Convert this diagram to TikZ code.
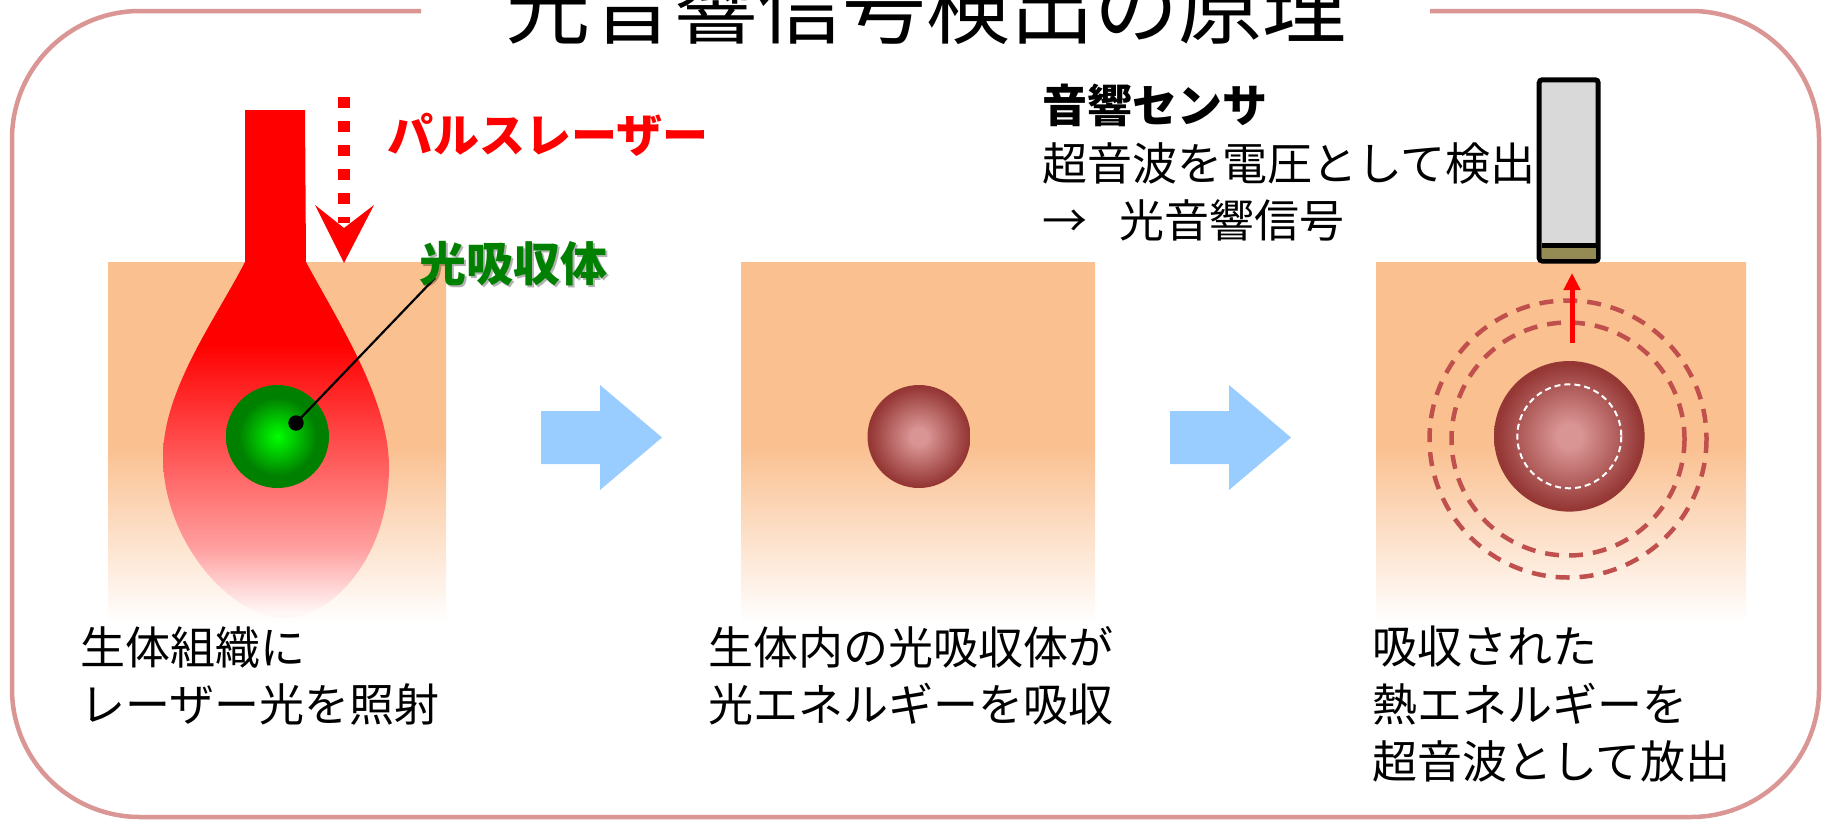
\documentclass[tikz,border=0pt]{standalone}
\usepackage{fontspec}
\setmainfont{Noto Sans CJK JP}
\usetikzlibrary{arrows.meta}

\definecolor{skin}{HTML}{FAC090}
\definecolor{framepink}{HTML}{D99694}
\definecolor{arrowblue}{HTML}{99CCFF}
\definecolor{wavered}{HTML}{C0504D}
\definecolor{labelgreen}{HTML}{008000}
\definecolor{ballgreen}{HTML}{00FF00}
\definecolor{balldark}{HTML}{008000}
\definecolor{heatpink}{HTML}{D99594}
\definecolor{heatbrown}{HTML}{953735}
\definecolor{sensorgray}{HTML}{D9D9D9}
\definecolor{sensorolive}{HTML}{948A54}

% tissue block: solid at the top, fading to white towards the bottom
\pgfdeclareverticalshading{skinfade}{100bp}{color(0bp)=(white); color(25bp)=(white); color(49.5bp)=(skin); color(100bp)=(skin)}
% laser beam: solid red, then fading out inside the tissue
\pgfdeclareverticalshading{beamfade}{100bp}{color(0bp)=(white); color(25.5bp)=(red!3!white); color(32bp)=(red!38!white); color(52bp)=(red); color(100bp)=(red)}
% absorber spheres
\pgfdeclareradialshading{absorber}{\pgfpoint{0bp}{0bp}}{color(0bp)=(ballgreen); color(19bp)=(balldark); color(50bp)=(balldark)}
\pgfdeclareradialshading{heated}{\pgfpoint{0bp}{0bp}}{color(0bp)=(heatpink); color(4bp)=(heatpink); color(24bp)=(heatbrown); color(50bp)=(heatbrown)}

\tikzset{
  bodytext/.style={font=\fontsize{45}{57.5}\selectfont, align=left, inner sep=0pt, anchor=north west},
  titletext/.style={font=\fontsize{84}{84}\selectfont, inner sep=0pt, anchor=base},
  lasertext/.style={font=\bfseries\fontsize{46}{46}\selectfont, text=red, inner sep=0pt, anchor=base west},
  greentext/.style={font=\bfseries\fontsize{47}{47}\selectfont, inner sep=0pt, anchor=base west},
  tissue/.style={shading=skinfade},
  blockarrow/.style={fill=arrowblue},
  wave/.style={draw=wavered, line width=4.5pt, dash pattern=on 14pt off 10pt},
}

\begin{document}
\begin{tikzpicture}[x=1pt, y=-1pt]
\useasboundingbox (0,0) rectangle (1825,822);

% outer frame with a gap for the heading
\draw[framepink, line width=4.5pt, rounded corners=128pt]
  (421,11) -- (12,11) -- (12,817) -- (1819,817) -- (1819,11) -- (1430,11);
\node[titletext] (title) at (926,37) {光音響信号検出の原理};

% ---------- step 1: laser irradiation ----------
\shade[tissue] (108,262) rectangle (446,622);
\shade[shading=beamfade]
  (245,110) -- (305,110) -- (306,262)
  .. controls (340,325) and (389,400) .. (389,467)
  .. controls (389,560) and (330,618) .. (285,618)
  .. controls (230,618) and (163,540) .. (163,457)
  .. controls (163,390) and (215,320) .. (245,262) -- cycle;
\shade[shading=absorber] (277.5,436.5) circle (51.5);

% dashed pulse arrow
\coordinate (pulsetop) at (344,97);
\coordinate (pulsebot) at (344,223);
\draw[red, line width=12pt, dash pattern=on 11pt off 13pt] (pulsetop) -- (pulsebot);
\fill[red] (315,205) -- (344,263) -- (374,205) -- (344,228) -- cycle;
\node[lasertext] (pulselabel) at (387,152) {パルスレーザー};

% absorber label with leader
\coordinate (dot) at (296,423);
\coordinate (leaderend) at (435,278);
\fill (dot) circle (7.7);
\draw[line width=2.2pt] (dot) -- (leaderend);
\node[greentext, text=black, opacity=0.3] at (421.5,283.5) {光吸収体};
\node[greentext, text=labelgreen] (absorberlabel) at (419.5,281.5) {光吸収体};

\node[bodytext] (text1) at (80,626) {生体組織に\\レーザー光を照射};

% step arrow 1
\fill[blockarrow] (541,411) -- (600,411) -- (600,385) -- (662,437.5)
  -- (600,490) -- (600,464) -- (541,464) -- cycle;

% ---------- step 2: absorption ----------
\shade[tissue] (741,262) rectangle (1095,622);
\shade[shading=heated] (919,436.5) circle (51.5);
\node[bodytext] (text2) at (708,626) {生体内の光吸収体が\\光エネルギーを吸収};

% step arrow 2
\fill[blockarrow] (1170,411) -- (1229,411) -- (1229,385) -- (1291,437.5)
  -- (1229,490) -- (1229,464) -- (1170,464) -- cycle;

% ---------- step 3: ultrasound emission ----------
\shade[tissue] (1376,262) rectangle (1746,622);
\draw[wave] (1568,439) circle (138.5);
\draw[wave] (1568,439) circle (116.5);
\shade[shading=heated] (1569.3,436.3) circle (75.3);
\draw[white, line width=2pt, dash pattern=on 6pt off 4pt] (1569.3,436.3) circle (52);

% acoustic sensor
\draw[line width=5pt, fill=sensorgray, rounded corners=3pt] (1539.2,79.8) rectangle (1598.2,261);
\fill[sensorolive] (1541.7,248.3) rectangle (1595.7,258.7);
\draw[line width=5pt] (1541.7,245.8) -- (1595.7,245.8);
\coordinate (sensorbottom) at (1572,273);
\coordinate (wavefront) at (1572,343);
\draw[red, line width=5pt, -{Triangle[width=16pt,length=17pt]}] (wavefront) -- (sensorbottom);

\node[bodytext] (sensortext) at (1042,84) {{\bfseries 音響センサ}\\超音波を電圧として検出\\→\hspace{32pt}光音響信号};

\node[bodytext] (text3) at (1372,626) {吸収された\\熱エネルギーを\\超音波として放出};
\end{tikzpicture}
\end{document}
